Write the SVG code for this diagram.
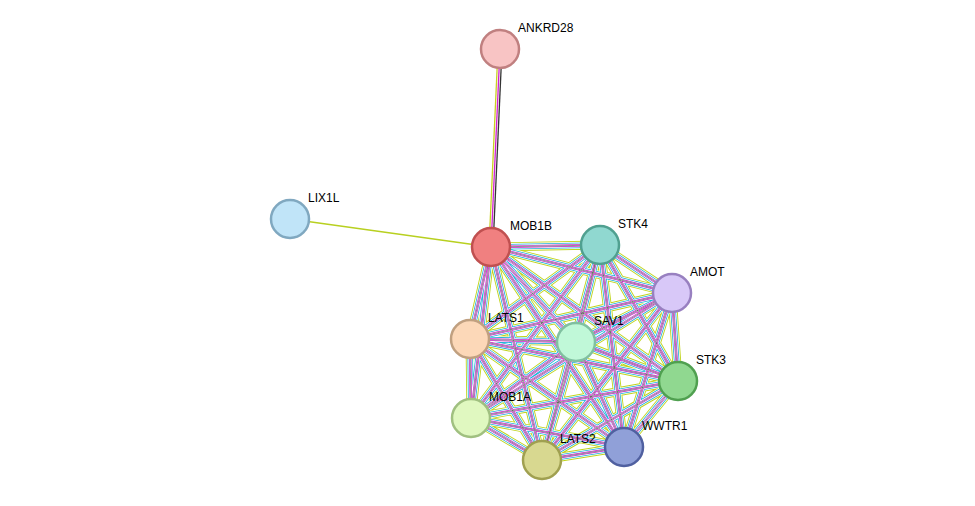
<svg xmlns="http://www.w3.org/2000/svg" xmlns:xlink="http://www.w3.org/1999/xlink" width="975" height="506" viewBox="0 0 975 506">
<style>
text{font-family:"Liberation Sans",Arial,sans-serif;font-size:12px;fill:#000}
.n{stroke-width:2.5}
#E path{fill:none}
</style>
<defs>
<g id="E">
<path d="M491 247L600 245M491 247L672 293M491 247L470 339M491 247L576 342M491 247L678 381M491 247L471 418M491 247L542 460M491 247L624 447M600 245L672 293M600 245L470 339M600 245L576 342M600 245L678 381M600 245L471 418M600 245L542 460M600 245L624 447M672 293L470 339M672 293L576 342M672 293L678 381M672 293L471 418M672 293L542 460M672 293L624 447M470 339L576 342M470 339L678 381M470 339L471 418M470 339L542 460M470 339L624 447M576 342L678 381M576 342L471 418M576 342L542 460M576 342L624 447M678 381L471 418M678 381L542 460M678 381L624 447M471 418L542 460M471 418L624 447M542 460L624 447"/>
</g>
</defs>
<rect width="975" height="506" fill="#fff"/>
<g id="connectors">
<line x1="290" y1="219" x2="491" y2="247" stroke="#b8d020" stroke-width="1.5"/>
<line x1="498" y1="49" x2="489" y2="247" stroke="#c8d020" stroke-width="1.3"/>
<line x1="500" y1="49" x2="491" y2="247" stroke="#d020d0" stroke-width="1.3"/>
<line x1="502" y1="49" x2="493" y2="247" stroke="#333" stroke-width="1.3"/>
<use xlink:href="#E" style="stroke:#c0d41c;stroke-width:9"/>
<use xlink:href="#E" style="stroke:#fff;stroke-width:7.2"/>
<use xlink:href="#E" style="stroke:#20b0d8;stroke-width:5.6"/>
<use xlink:href="#E" style="stroke:#fff;stroke-width:4"/>
<use xlink:href="#E" style="stroke:#d020d0;stroke-width:2.6"/>
<use xlink:href="#E" style="stroke:#fff;stroke-width:1.2"/>
<use xlink:href="#E" style="stroke:#444;stroke-width:0.6"/>
</g>
<g id="ANKRD28"><circle class="n" cx="500" cy="49" r="19" fill="#f8c4c4" stroke="#c08080"/><text x="518" y="32">ANKRD28</text></g>
<g id="LIX1L"><circle class="n" cx="290" cy="219" r="19" fill="#c0e4f8" stroke="#80a8c0"/><text x="308" y="202">LIX1L</text></g>
<g id="MOB1B"><circle class="n" cx="491" cy="247" r="19" fill="#f08080" stroke="#c05050"/><text x="510" y="230">MOB1B</text></g>
<g id="STK4"><circle class="n" cx="600" cy="245" r="19" fill="#90d8d0" stroke="#50a090"/><text x="618" y="228">STK4</text></g>
<g id="AMOT"><circle class="n" cx="672" cy="293" r="19" fill="#d8c8f8" stroke="#9880c0"/><text x="690" y="276">AMOT</text></g>
<g id="LATS1"><circle class="n" cx="470" cy="339" r="19" fill="#fcd8b8" stroke="#c0a080"/><text x="488" y="322">LATS1</text></g>
<g id="SAV1"><circle class="n" cx="576" cy="342" r="19" fill="#c0f8d8" stroke="#80c0a0"/><text x="594" y="325">SAV1</text></g>
<g id="STK3"><circle class="n" cx="678" cy="381" r="19" fill="#90d890" stroke="#50a050"/><text x="696" y="364">STK3</text></g>
<g id="MOB1A"><circle class="n" cx="471" cy="418" r="19" fill="#e0f8c0" stroke="#a0c080"/><text x="489" y="401">MOB1A</text></g>
<g id="LATS2"><circle class="n" cx="542" cy="460" r="19" fill="#d8d890" stroke="#a0a050"/><text x="560" y="443">LATS2</text></g>
<g id="WWTR1"><circle class="n" cx="624" cy="447" r="19" fill="#90a0d8" stroke="#5060a0"/><text x="642" y="430">WWTR1</text></g>
</svg>
